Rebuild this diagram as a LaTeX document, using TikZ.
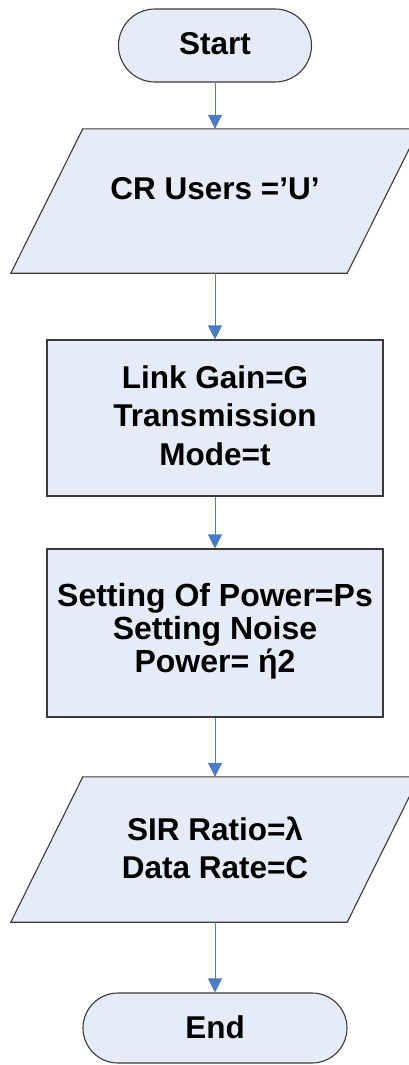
\documentclass[tikz,border=0pt]{standalone}
\usepackage{fontspec}
\setmainfont{Liberation Sans}
\usetikzlibrary{arrows.meta,shapes.misc}
\definecolor{boxfill}{HTML}{E6ECF7}
\definecolor{boxline}{HTML}{3A3A3A}
\definecolor{flowblue}{HTML}{4A7CC4}

\begin{document}
\begin{tikzpicture}[x=1pt,y=-1pt,
  shapebox/.style={draw=boxline, fill=boxfill, line width=1.1pt, inner sep=0pt},
  term/.style={shapebox, rounded rectangle},
  procbox/.style={shapebox, rectangle},
  iobox/.style={inner sep=0pt, minimum width=336pt},
  lbl/.style={font=\fontsize{31.5}{38.5}\selectfont\bfseries, align=center, inner sep=0pt, anchor=base},
  flow/.style={draw=flowblue, line width=1pt, -{Triangle[length=14pt,width=14pt]}}]

\useasboundingbox (0,0) rectangle (409,1065);

% terminator: start
\node[term, minimum width=193pt, minimum height=73pt] (start) at (215,45.5) {};

% input: users
\node[iobox, minimum height=144pt] (users) at (215,201) {};
\draw[shapebox] ([xshift=36pt]users.north west) -- ([xshift=36pt]users.north east)
  -- ([xshift=-36pt]users.south east) -- ([xshift=-36pt]users.south west) -- cycle;

% process: link gain
\node[procbox, minimum width=336pt, minimum height=156pt] (gain) at (215,418) {};

% process: power settings
\node[procbox, minimum width=336pt, minimum height=168pt] (power) at (215,633) {};

% output: SIR and data rate
\node[iobox, minimum height=145pt] (sir) at (215,849.5) {};
\draw[shapebox] ([xshift=36pt]sir.north west) -- ([xshift=36pt]sir.north east)
  -- ([xshift=-36pt]sir.south east) -- ([xshift=-36pt]sir.south west) -- cycle;

% terminator: end
\node[term, minimum width=264pt, minimum height=70pt] (end) at (215,1028) {};

% flow connectors
\draw[flow] (start.south) -- (users.north);
\draw[flow] (users.south) -- (gain.north);
\draw[flow] (gain.south) -- (power.north);
\draw[flow] (power.south) -- (sir.north);
\draw[flow] (sir.south) -- (end.north);

% labels (base anchor sits on the last line's baseline)
\node[lbl] (startlbl) at (215,55) {Start};
\node[lbl] (userslbl) at (215,199) {CR Users =’U’};
\node[lbl] (gainlbl) at (215,465) {Link Gain=G\\Transmission\\Mode=t};
\node[lbl, font=\fontsize{32}{33}\selectfont\bfseries] (powerlbl) at (215,672)
  {Setting Of Power=Ps\\Setting Noise\\Power= ή2};
\node[lbl, font=\fontsize{31.5}{38}\selectfont\bfseries] (sirlbl) at (215,878)
  {SIR Ratio=λ\\Data Rate=C};
\node[lbl] (endlbl) at (215,1038) {End};
\end{tikzpicture}
\end{document}
